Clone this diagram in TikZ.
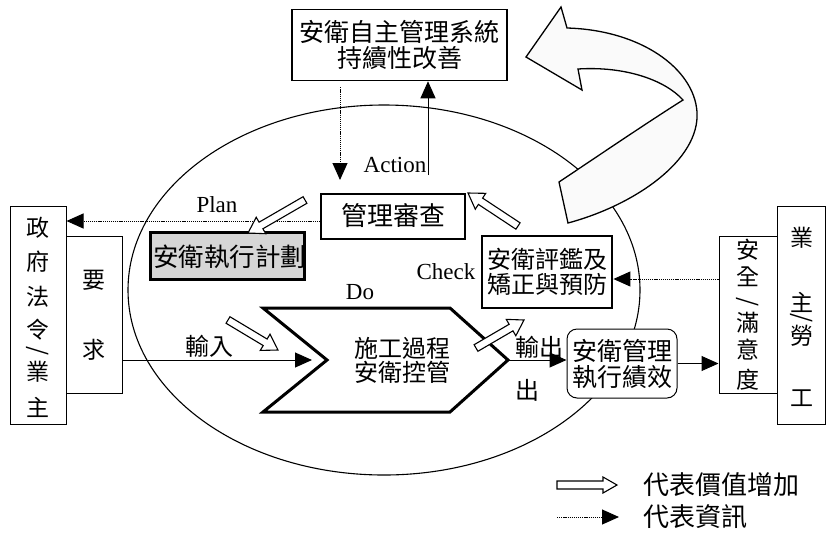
\documentclass[tikz,border=0pt]{standalone}
\usepackage{fontspec}
\setmainfont{Liberation Serif}
\newfontfamily\cjk{Noto Sans CJK TC}
\usetikzlibrary{arrows.meta,calc}
\newcommand\cjkfs[2]{\cjk\fontsize{#1}{#2}\selectfont}
% hollow "value added" arrow: tail, tip, shaft half width, head half width, head length
\newcommand\hollowarrow[5]{%
  \coordinate (#1h) at ($(#2)!#5pt!(#1)$);
  \draw[valuearrow] ($(#1)!#3pt!90:(#2)$) -- ($(#1h)!#3pt!90:(#2)$) -- ($(#1h)!#4pt!90:(#2)$) -- (#2)
    -- ($(#1h)!#4pt!-90:(#2)$) -- ($(#1h)!#3pt!-90:(#2)$) -- ($(#1)!#3pt!-90:(#2)$) -- cycle;}
\begin{document}
\begin{tikzpicture}[x=1pt,y=-1pt,
  box/.style={draw, line width=1pt, fill=white, inner sep=0pt, align=center},
  vchar/.style={inner sep=0pt, font=\cjkfs{23}{24}},
  label/.style={inner sep=0pt, font=\fontsize{23}{25}\selectfont},
  cjklabel/.style={inner sep=0pt, font=\cjkfs{24}{25}},
  infoarrow/.style={line width=1pt, dash pattern=on 1.2pt off 0.9pt, -{Triangle[length=17pt,width=15pt]}},
  flowarrow/.style={line width=1pt, -{Triangle[length=17pt,width=15pt]}},
  valuearrow/.style={draw, line width=1.1pt, fill=white, line join=miter},
  bigarrow/.style={draw, line width=1.3pt, fill=gray!4, line join=miter}]
\useasboundingbox (0,0) rectangle (827,542);
\fill[white] (0,0) rectangle (827,542);

% PDCA ellipse
\draw[line width=1.1pt] (384,290) ellipse [x radius=256, y radius=185];

% big curved improvement arrow
\draw[bigarrow] (568,223) .. controls (635,205) and (700,160) .. (697,112)
  .. controls (694,68) and (640,30) .. (567,28) -- (561,7) -- (526,57) -- (582,90) -- (578,69)
  .. controls (625,66) and (665,80) .. (683,100)
  .. controls (648,122) and (592,160) .. (559,182) -- cycle;

% top box
\node[box, line width=1.5pt, minimum width=215pt, minimum height=71pt, font=\cjkfs{25}{26}] (top) at (399.5,45) {安衛自主管理系統\\持續性改善};

% left boxes
\node[box, minimum width=56pt, minimum height=218pt] (gov) at (38,315) {};
\node[box, minimum width=56pt, minimum height=157pt] (req) at (94,314.5) {};
\foreach \vc/\yy [count=\i] in {政/228,府/262,法/297,令/330,業/372,主/407}
  \node[vchar] (g\i) at (38,\yy) {\vc};
\node[vchar, rotate=-90] (gslash) at (38,351) {/};
\foreach \vc/\yy [count=\i] in {要/280,求/350}
  \node[vchar] (r\i) at (94,\yy) {\vc};

% right boxes
\node[box, minimum width=58pt, minimum height=157pt] (safe) at (748,314.5) {};
\node[box, minimum width=48pt, minimum height=218pt] (owner) at (801,315) {};
\foreach \vc/\yy [count=\i] in {安/250,全/277,滿/323,意/350,度/380}
  \node[vchar] (s\i) at (748,\yy) {\vc};
\node[vchar, rotate=-90] (sslash) at (748,302) {/};
\foreach \vc/\yy [count=\i] in {業/238,主/302,勞/336,工/398}
  \node[vchar] (o\i) at (802,\yy) {\vc};
\node[vchar, rotate=-90] (oslash) at (802,318) {/};

% inner boxes
\node[box, line width=2pt, minimum width=144pt, minimum height=45pt, font=\cjkfs{26}{27}] (review) at (393,216) {管理審查};
\node[box, draw=none, fill=gray!32, minimum width=153pt, minimum height=46pt] (plan) at (227.5,256) {};
\begin{scope}
  \clip (plan.north west) rectangle (plan.south east);
  \node[inner sep=0pt, anchor=west, font=\cjkfs{25.5}{26}] (plantext) at (153,257) {安衛執行計劃};
\end{scope}
\draw[line width=3pt] (plan.north west) rectangle (plan.south east);
\node[box, line width=2.8pt, minimum width=130pt, minimum height=72pt, font=\cjkfs{24}{25}] (check) at (547,272) {安衛評鑑及\\矯正與預防};
\node[box, rounded corners=10pt, minimum width=110pt, minimum height=69pt, font=\cjkfs{25}{26}] (perf) at (622,363.5) {安衛管理\\執行績效};

% process chevron
\coordinate (notch) at (327,360);
\coordinate (tip) at (508,360);
\draw[line width=3pt, fill=white, line join=miter] (263,308) -- (450,308) -- (tip) -- (450,412) -- (263,412) -- (notch) -- cycle;
\node[inner sep=0pt, align=center, font=\cjkfs{24}{24}] (proc) at (402,360) {施工過程\\安衛控管};

% PDCA labels
\node[label] (plantag) at (217,205) {Plan};
\node[label] (actiontag) at (395,165) {Action};
\node[label] (checktag) at (446,272) {Check};
\node[label] (dotag) at (360,292) {Do};
\node[cjklabel] (intag) at (209,346) {輸入};
\node[cjklabel] (outtag) at (539,347) {輸出};
\node[cjklabel] (outtag2) at (527,390) {出};

% information (dotted) arrows
\coordinate (infoL) at ($(review.west)+(0,5)$);
\draw[infoarrow] (infoL) -- (infoL -| gov.east);
\coordinate (infoR) at ($(check.east)+(0,7)$);
\draw[infoarrow] (infoR -| safe.west) -- (infoR);
\coordinate (actdown) at (340,180);
\draw[infoarrow, shorten <=6pt] (top.south -| actdown) -- (actdown);

% flow (solid) arrows
\coordinate (actup) at (428,175);
\draw[flowarrow] (actup) -- (actup |- top.south);
\draw[flowarrow, shorten >=15pt] (req.east |- notch) -- (notch);
\draw[flowarrow] (tip) -- (tip -| perf.west);
\draw[flowarrow] (perf.east) -- (perf.east -| safe.west);

% value-added hollow arrows
\coordinate (pA) at (305,200); \coordinate (pB) at (248,233);
\hollowarrow{pA}{pB}{3.8}{9.5}{15}
\coordinate (cA) at (518,226); \coordinate (cB) at (468,193);
\hollowarrow{cA}{cB}{3.8}{9.5}{15}
\coordinate (iA) at (228,320); \coordinate (iB) at (278,350);
\hollowarrow{iA}{iB}{3.8}{9.5}{15}
\coordinate (oA) at (476,348); \coordinate (oB) at (524,320);
\hollowarrow{oA}{oB}{3.8}{9.5}{15}

% legend
\coordinate (lvA) at (557,485); \coordinate (lvB) at (617,485);
\hollowarrow{lvA}{lvB}{4}{8}{14}
\coordinate (liA) at (557,517); \coordinate (liB) at (619,517);
\draw[infoarrow] (liA) -- (liB);
\node[inner sep=0pt, anchor=west, font=\cjkfs{26}{27}] (leg1) at (643,485) {代表價值增加};
\node[inner sep=0pt, anchor=west, font=\cjkfs{26}{27}] (leg2) at (643,517) {代表資訊};
\end{tikzpicture}
\end{document}
